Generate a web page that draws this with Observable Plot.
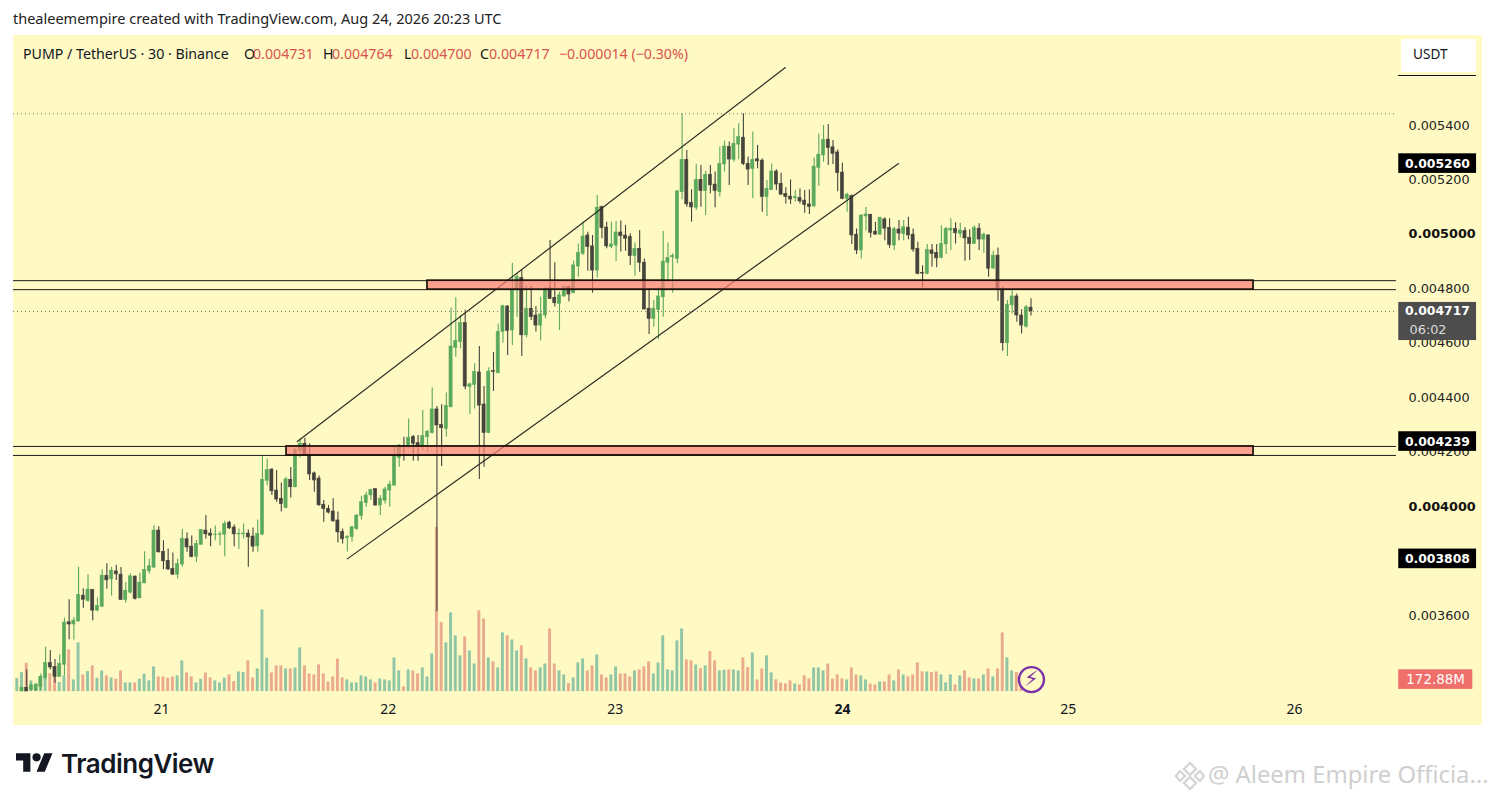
<!DOCTYPE html>
<html><head><meta charset="utf-8">
<script src="https://cdn.jsdelivr.net/npm/d3@7"></script>
<script src="https://cdn.jsdelivr.net/npm/@observablehq/plot@0.6"></script>
<style>
html,body{margin:0;background:#fff;overflow:hidden}
#page{position:relative;width:1495px;height:801px;font-family:"Noto Sans",sans-serif;color:#131722}
#page>div,#page>svg,#pane>div{position:absolute}
#pane{left:13px;top:35px;width:1469px;height:690px}
.t{white-space:pre;line-height:1}
.r{color:#d9534f}
</style></head><body>
<div id="page">
  <div class="t" style="left:13px;top:11px;font-size:14.5px;color:#222">thealeemempire created with TradingView.com, Aug 24, 2026 20:23 UTC</div>
  <div id="pane"></div>
  <svg style="left:16px;top:749px" width="37" height="29" viewBox="0 0 36 28"><path d="M14 22H7V11H0V4h14v18zM28 22h-8l7.5-18h8L28 22z" fill="#131722"/><circle cx="20" cy="8" r="4" fill="#131722"/></svg>
  <div class="t" style="left:61px;top:748px;font:600 26px Inter,sans-serif;letter-spacing:-.5px;color:#131722">TradingView</div>
  <svg style="left:1174px;top:760px" width="32" height="32" viewBox="0 0 32 32" fill="none" stroke="#d6d6d6" stroke-width="2.4"><path d="M16 3l6 6-6 6-6-6zM6 11l5 5-5 5-4-5zM26 11l4 5-4 5-5-5zM16 17l6 6-6 6-6-6z"/></svg>
  <div class="t" style="left:1208px;top:763px;font-size:23.8px;color:#cfcfcf">@ Aleem Empire Officia...</div>
</div>
<script>
// Prices are in millionths of USDT, one entry per 30-minute bar.
const open = [
3321,3334,3326,3324,3338,3370,3425,3411,3375,3419,3575,3567,3578,3673,3654,3694,3618,3632,3746,3733,
3762,3750,3657,3684,3743,3663,3718,3762,3776,3912,3834,3801,3771,3750,3787,3880,3853,3816,3860,3912,
3901,3895,3896,3897,3941,3923,3898,3898,3901,3890,3854,3897,4095,4136,4059,4029,3995,4098,4071,4204,
4231,4191,4122,4103,4007,3992,3982,3949,3907,3884,3888,3918,3965,4013,4041,4064,4004,4022,4059,4077,
4179,4223,4218,4255,4233,4221,4255,4270,4357,4300,4286,4365,4583,4604,4674,4439,4447,4493,4375,4270,
4498,4490,4641,4735,4647,4794,4840,4629,4727,4702,4665,4702,4802,4767,4745,4772,4806,4784,4882,4929,
4996,4956,4867,5100,5025,4953,4959,5007,4996,4990,4920,4947,4896,4727,4690,4723,4769,4896,4916,4910,
5155,5274,5116,5098,5200,5159,5219,5183,5155,5257,5321,5274,5330,5355,5259,5240,5276,5271,5137,5163,
5231,5186,5149,5139,5133,5134,5124,5110,5103,5244,5290,5348,5320,5301,5227,5130,5141,4999,4941,5066,
5072,5010,4999,5055,5024,4959,5018,5002,5025,4999,4947,4859,4855,4941,4932,4914,4963,5014,5020,5002,
5012,4987,4965,5021,4981,4996,4874,4922,4797,4600,4739,4772,4702,4661,4731];
const high = [
3336,3400,3348,3351,3385,3483,3471,3438,3456,3591,3658,3593,3777,3698,3750,3695,3664,3767,3790,3777,
3785,3776,3721,3752,3745,3755,3834,3807,3930,3926,3875,3844,3830,3807,3916,3903,3892,3875,3916,3967,
3918,3929,3907,3946,3946,3932,3918,3936,3914,3921,3951,4187,4175,4139,4133,4087,4108,4144,4212,4249,
4251,4231,4127,4112,4022,4004,4029,3980,3918,3894,3927,3971,4038,4053,4063,4066,4041,4071,4093,4224,
4228,4255,4322,4261,4261,4353,4280,4436,4368,4374,4417,4730,4767,4702,4721,4454,4525,4588,4441,4510,
4566,4671,4740,4739,4894,4855,4867,4812,4809,4735,4769,4809,4978,4896,4788,4812,4809,4902,4965,5045,
5008,4996,5143,5103,5045,5045,5047,5049,5033,5002,4968,5014,4910,4800,4757,4806,5011,4968,4929,5161,
5443,5308,5164,5257,5253,5232,5253,5229,5321,5343,5339,5388,5406,5443,5284,5376,5327,5277,5198,5259,
5237,5225,5171,5200,5161,5167,5161,5163,5281,5369,5400,5404,5345,5310,5261,5151,5145,5020,5073,5099,
5074,5045,5063,5061,5057,5026,5051,5051,5063,5020,4971,4885,4963,4963,4963,5032,5026,5057,5043,5041,
5024,5017,5032,5039,5004,4999,4938,4950,4806,4757,4794,4781,4723,4739,4764];
const low = [
3321,3321,3322,3321,3324,3363,3400,3351,3373,3379,3511,3510,3576,3627,3649,3581,3614,3630,3696,3672,
3729,3655,3645,3679,3657,3662,3717,3752,3774,3830,3768,3765,3747,3734,3777,3832,3812,3794,3858,3881,
3853,3875,3856,3816,3916,3853,3842,3881,3777,3832,3832,3893,4077,4041,4016,3980,3992,4032,4069,4179,
4188,4096,4053,4000,3943,3973,3943,3866,3863,3833,3869,3912,3951,3998,4022,4002,3967,4010,3998,4076,
4145,4167,4212,4167,4167,4206,4200,4267,3614,4147,4255,4363,4549,4580,4429,4338,4359,4100,4145,4268,
4423,4488,4600,4555,4592,4696,4551,4620,4684,4641,4608,4690,4761,4733,4647,4769,4753,4782,4843,4922,
4865,4784,4840,4984,4947,4947,4900,4935,4938,4886,4847,4861,4723,4632,4659,4613,4696,4825,4784,4892,
5127,5100,5045,5088,5100,5069,5149,5098,5137,5229,5180,5265,5274,5253,5180,5131,5241,5081,5066,5161,
5161,5143,5112,5110,5118,5112,5078,5073,5100,5176,5265,5253,5257,5157,5127,5081,4963,4926,4910,5012,
4987,4998,4997,4977,4949,4941,4977,4977,4980,4934,4852,4803,4852,4879,4877,4910,4926,4941,4965,4987,
4901,4904,4963,4941,4931,4843,4873,4754,4571,4551,4708,4677,4634,4656,4700];
const close = [
3334,3321,3343,3346,3375,3425,3409,3375,3422,3574,3567,3581,3676,3658,3695,3618,3635,3746,3729,3765,
3751,3657,3691,3744,3661,3721,3768,3781,3912,3832,3799,3769,3750,3789,3882,3850,3815,3863,3914,3898,
3893,3897,3898,3936,3920,3898,3899,3901,3887,3853,3899,4098,4134,4056,4026,4009,4100,4071,4209,4231,
4191,4118,4096,4005,3991,3978,3946,3905,3880,3888,3924,3967,4016,4041,4062,4004,4029,4063,4081,4182,
4224,4218,4253,4231,4222,4259,4275,4357,4298,4288,4370,4588,4608,4674,4441,4449,4494,4371,4270,4496,
4495,4641,4736,4645,4794,4843,4629,4727,4696,4665,4706,4800,4763,4747,4776,4806,4779,4886,4931,4992,
4953,4867,5098,5023,4956,4963,5007,4993,4984,4920,4947,4896,4724,4690,4727,4772,4900,4914,4921,5158,
5274,5110,5099,5200,5159,5219,5180,5159,5259,5323,5275,5333,5357,5259,5238,5274,5268,5137,5167,5231,
5183,5146,5137,5128,5137,5121,5108,5100,5249,5293,5347,5317,5296,5225,5130,5146,4996,4941,5069,5073,
5006,4999,5061,5021,4961,5019,5003,5026,4996,4944,4855,4856,4943,4928,4912,4965,5020,5021,5004,5014,
4985,4965,5023,4981,4999,4874,4922,4800,4600,4742,4772,4702,4665,4732,4717];
// Volume in millions of PUMP; the first entry is the bar just before the first candle.
const volume = [
187,274,408,154,96,211,240,259,259,130,226,600,168,701,240,288,370,192,298,226,
197,178,298,125,125,125,178,250,154,355,211,211,192,211,226,442,269,211,125,178,
269,197,154,125,192,240,144,283,274,442,197,326,1176,480,269,370,370,326,326,341,
629,370,254,240,384,254,139,211,470,197,168,125,125,226,211,168,125,182,168,154,
485,298,67,312,298,254,341,211,542,2362,994,701,1133,802,514,787,586,398,1162,1046,
485,427,341,845,802,744,586,658,470,341,298,341,398,902,398,298,240,115,197,413,
470,298,370,528,240,197,240,355,254,254,211,298,312,355,427,254,413,802,312,298,
730,902,456,442,384,331,370,576,442,298,307,312,312,298,485,346,557,168,326,514,
269,168,125,110,154,110,96,226,182,341,341,298,398,178,240,182,168,341,240,226,
168,106,96,139,139,240,154,312,240,211,240,413,283,283,274,283,240,125,240,96,
226,298,197,182,182,240,326,211,326,845,485,298,274,130,150,172.88];

const dayLabels = ["21","22","23","24","25","26"];
const dayBars = [29.6,77.7,125.8,174,221.9,269.9];
const boldDayLabels = ["24"];
const priceTicks = [5400,5200,4800,4600,4400,4200,3600];
const boldPriceTicks = [5000,4000];
const upperChannel = [{bar:58.4,price:4239},{bar:161.9,price:5613}];
const lowerChannel = [{bar:69,price:3808},{bar:185.9,price:5260}];
const zones = [
  {from:86,to:261.2,top:4830,bottom:4797},
  {from:56.1,to:261.2,top:4221,bottom:4188}
];
const dottedPrices = [5443,4717];
const blackTags = [5260,4239,3808];

const lineStart=-1.8, lineEnd=291.5, tagLeft=292, tagRight=308.5, tagMid=300.2, tagTextStart=294.3;
const fmt = v => (v/1e6).toFixed(6);
const volBase = 3320.5, volUnit = 0.2551;
const volY = v => volBase + v*volUnit;
const GREEN="#5aa95c", DARK="#45443c", VGREEN="#90c6a6", VRED="#e9aa8e";

const bars = open.map((o,i)=>({bar:i,open:o,high:high[i],low:low[i],close:close[i]}));
const vols = volume.map((v,i)=>{const bar=i-1,c=bars[bar];return {bar,v,up:!c||c.close>=c.open}});
const up = bars.filter(d=>d.close>=d.open), down = bars.filter(d=>d.close<d.open);
const mono = {fontFamily:"DejaVu Sans",fontSize:12.8};
const tagFont = {fontFamily:"DejaVu Sans",fontSize:12.4};
const volMark = (data,fill)=>Plot.rect(data,{x1:d=>d.bar-.31,x2:d=>d.bar+.31,y1:volBase,y2:d=>volY(d.v),fill});
const wick = (data,stroke)=>Plot.ruleX(data,{x:"bar",y1:"low",y2:"high",stroke,strokeWidth:1.1});
const body = (data,fill)=>Plot.rect(data,{x1:d=>d.bar-.33,x2:d=>d.bar+.33,y1:"open",y2:"close",fill,stroke:fill,strokeWidth:.6});

const chart = Plot.plot({
  width:1469,height:690,marginTop:0,marginLeft:0,marginRight:86,marginBottom:34,
  style:{background:"#fff9c4",overflow:"hidden",display:"block"},
  x:{type:"linear",domain:[0,214],range:[8.5,1017.5]},
  y:{type:"linear",domain:[3600,5400],range:[580,90]},
  marks:[
    volMark(vols.filter(d=>d.up),VGREEN),
    volMark(vols.filter(d=>!d.up),VRED),
    wick(up,GREEN),wick(down,DARK),
    body(up,GREEN),body(down,DARK),
    Plot.line(upperChannel,{x:"bar",y:"price",stroke:"#2e2e28",strokeWidth:1.2}),
    Plot.line(lowerChannel,{x:"bar",y:"price",stroke:"#2e2e28",strokeWidth:1.2}),
    Plot.ruleY(dottedPrices,{x1:lineStart,x2:lineEnd,stroke:"#77776a",strokeWidth:1,strokeDasharray:"1,3"}),
    Plot.ruleY(zones.flatMap(z=>[z.top,z.bottom]),{x1:lineStart,x2:lineEnd,stroke:"#1a1a1a",strokeWidth:1}),
    Plot.rect(zones,{x1:"from",x2:"to",y1:"bottom",y2:"top",fill:"#fb7f78",fillOpacity:.72,stroke:"#1a1208",strokeWidth:1.7}),
    Plot.axisX({ticks:dayBars.filter((_,i)=>!boldDayLabels.includes(dayLabels[i])),tickSize:0,tickPadding:13,
      tickFormat:b=>dayLabels[dayBars.indexOf(b)],label:null,fontFamily:"Noto Sans",fontSize:14,fill:"#131722"}),
    Plot.axisX({ticks:dayBars.filter((_,i)=>boldDayLabels.includes(dayLabels[i])),tickSize:0,tickPadding:13,
      tickFormat:b=>dayLabels[dayBars.indexOf(b)],label:null,fontFamily:"Noto Sans",fontSize:14,fontWeight:"bold",fill:"#131722"}),
    Plot.axisY({anchor:"right",ticks:priceTicks,tickSize:0,tickPadding:12,tickFormat:fmt,label:null,...mono,fill:"#222"}),
    Plot.axisY({anchor:"right",ticks:boldPriceTicks,tickSize:0,tickPadding:12,tickFormat:fmt,label:null,...mono,fontWeight:"bold",fill:"#111"}),
    Plot.rect(blackTags,{x1:tagLeft,x2:tagRight,y1:d=>d-36,y2:d=>d+36,fill:"#000"}),
    Plot.text(blackTags,{x:tagMid,y:d=>d,text:fmt,...tagFont,fontWeight:"bold",fill:"#fff"}),
    Plot.rect([close[214]],{x1:tagLeft,x2:tagRight,y1:d=>d-107,y2:d=>d+33,fill:"#4d4d4d"}),
    Plot.text([close[214]],{x:tagMid,y:d=>d,text:fmt,...tagFont,fontWeight:"bold",fill:"#fff"}),
    Plot.text(["06:02"],{x:tagTextStart,y:close[214]-67,text:d=>d,textAnchor:"start",...mono,fill:"#ddd"}),
    Plot.rect([volume[215]],{x1:tagLeft,x2:tagRight-.8,y1:d=>volY(d)-36,y2:d=>volY(d)+36,fill:"#ef6f6a"}),
    Plot.text([volume[215]],{x:tagMid-.4,y:d=>volY(d),text:d=>d+"M",fontFamily:"DejaVu Sans",fontSize:13.4,fill:"#fff"}),
    Plot.dot([volume[215]],{x:214.1,y:d=>volY(d),r:12.5,fill:"#fff9c4",stroke:"#7b2fa8",strokeWidth:2.4}),
    Plot.text(["\u26A1\uFE0E"],{x:214.1,y:volY(volume[215]),text:d=>d,fontFamily:"DejaVu Sans",fontSize:21,fill:"#7b2fa8"})
  ]
});
const pane=document.getElementById("pane");
pane.appendChild(chart);
const legend=[[10,"PUMP / TetherUS · 30 · Binance",""],[231,"O",""],[240,"0.004731","r"],[310,"H",""],[319,"0.004764","r"],[391,"L",""],[398,"0.004700","r"],[467,"C",""],[476,"0.004717","r"],[546,"−0.000014 (−0.30%)","r"]];
for(const [l,s,c] of legend){const e=document.createElement("div");e.className="t "+c;e.style.cssText=`left:${l}px;top:12px;font-size:14.2px`;e.textContent=s;pane.appendChild(e);}
const b=document.createElement("div");b.className="t";b.style.cssText="left:1388px;top:4px;width:75px;height:33px;background:#fff;border-radius:3px;font-size:13.6px;line-height:29px;padding-left:12px;box-sizing:border-box";b.textContent="USDT";pane.appendChild(b);
const u=document.createElement("div");u.style.cssText="left:1385px;top:40px;width:78px;height:1px;background:#111";pane.appendChild(u);
</script>
</body></html>
